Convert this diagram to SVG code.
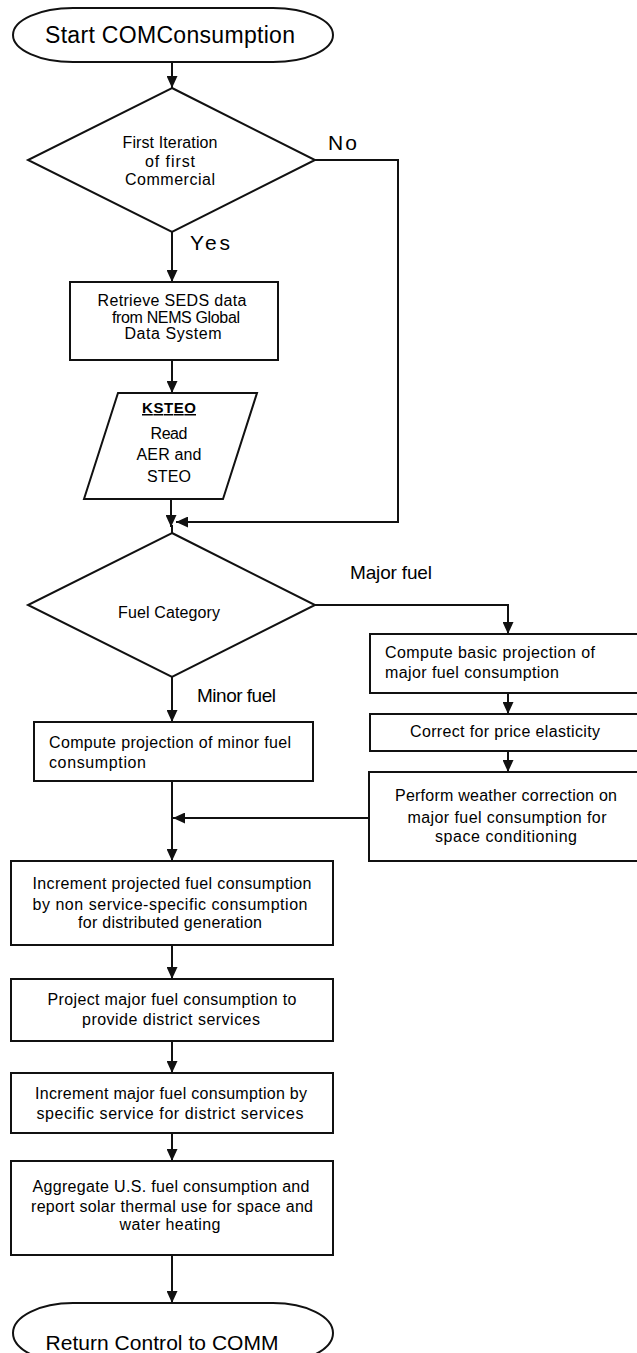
<svg xmlns="http://www.w3.org/2000/svg" width="637" height="1353" viewBox="0 0 637 1353">
<style>
.s{fill:#fff;stroke:#111;stroke-width:2}
.c{fill:none;stroke:#111;stroke-width:2}
text{font-family:"Liberation Sans",Arial,sans-serif;fill:#000}
.t{font-size:16px}
.m{text-anchor:middle}
.big{font-size:21px}
.lbl{font-size:19px}
</style>
<defs>
<marker id="ah" viewBox="0 0 12 11" refX="12" refY="5.5" markerWidth="12" markerHeight="11" markerUnits="userSpaceOnUse" orient="auto">
<path d="M0,0 L12,5.5 L0,11 z" fill="#111"/>
</marker>
</defs>
<rect width="637" height="1353" fill="#fff"/>

<g id="connectors">
<path class="c" d="M172,62 V88" marker-end="url(#ah)"/>
<path class="c" d="M172,232 V282" marker-end="url(#ah)"/>
<path class="c" d="M172,360 V393" marker-end="url(#ah)"/>
<path class="c" d="M171,499 V527" marker-end="url(#ah)"/>
<path class="c" d="M172,525 V533"/>
<path class="c" d="M315,160 H398 V522 H176" marker-end="url(#ah)"/>
<path class="c" d="M315,605 H508 V634" marker-end="url(#ah)"/>
<path class="c" d="M172,677 V722" marker-end="url(#ah)"/>
<path class="c" d="M508,693 V714" marker-end="url(#ah)"/>
<path class="c" d="M508,751 V772" marker-end="url(#ah)"/>
<path class="c" d="M369,818 H173" marker-end="url(#ah)"/>
<path class="c" d="M172,781 V861" marker-end="url(#ah)"/>
<path class="c" d="M172,945 V979" marker-end="url(#ah)"/>
<path class="c" d="M172,1041 V1073" marker-end="url(#ah)"/>
<path class="c" d="M172,1133 V1161" marker-end="url(#ah)"/>
<path class="c" d="M172,1255 V1303" marker-end="url(#ah)"/>
</g>

<g id="labels">
<text font-size="21" x="328" y="150" textLength="29">No</text>
<text font-size="21" x="190" y="250" textLength="40">Yes</text>
<text class="lbl" x="350" y="579" textLength="82">Major fuel</text>
<text class="lbl" x="197" y="702" textLength="79">Minor fuel</text>
</g>

<g id="start">
<rect class="s" x="13" y="8" width="320" height="54" rx="60" ry="27"/>
<text class="m" font-size="23" x="170" y="43" textLength="250">Start COMConsumption</text>
</g>

<g id="decision1">
<polygon class="s" points="172,88 315,160 172,232 28,160"/>
<text class="t m" x="170" y="148" textLength="95">First Iteration</text>
<text class="t m" x="170" y="167" textLength="50">of first</text>
<text class="t m" x="170" y="185" textLength="90">Commercial</text>
</g>

<g id="retrieve">
<rect class="s" x="70" y="282" width="208" height="78"/>
<text class="t m" x="172" y="306" textLength="149">Retrieve SEDS data</text>
<text class="t m" x="176" y="323" textLength="128">from NEMS Global</text>
<text class="t m" x="173" y="339" textLength="97">Data System</text>
</g>

<g id="ksteo">
<polygon class="s" points="118,393 257,393 223,499 84,499"/>
<text class="m" font-size="15" x="169" y="413" font-weight="bold" text-decoration="underline" textLength="54">KSTEO</text>
<text class="t m" x="169" y="439" textLength="37">Read</text>
<text class="t m" x="169" y="460" textLength="65">AER and</text>
<text class="t m" x="169" y="482" textLength="44">STEO</text>
</g>

<g id="decision2">
<polygon class="s" points="172,533 315,605 172,677 28,605"/>
<text class="m" font-size="16" x="169" y="618" textLength="102">Fuel Category</text>
</g>

<g id="minor">
<rect class="s" x="34" y="722" width="279" height="59"/>
<text class="t" x="49" y="748" textLength="242">Compute projection of minor fuel</text>
<text class="t" x="49" y="768" textLength="97">consumption</text>
</g>

<g id="basic">
<rect class="s" x="370" y="634" width="280" height="59"/>
<text class="t" x="385" y="658" textLength="210">Compute basic projection of</text>
<text class="t" x="385" y="678" textLength="174">major fuel consumption</text>
</g>

<g id="elasticity">
<rect class="s" x="370" y="714" width="280" height="37"/>
<text class="t m" x="505" y="737" textLength="190">Correct for price elasticity</text>
</g>

<g id="weather">
<rect class="s" x="369" y="772" width="281" height="89"/>
<text class="t m" x="506" y="801" textLength="222">Perform weather correction on</text>
<text class="t m" x="507" y="823" textLength="199">major fuel consumption for</text>
<text class="t m" x="506" y="842" textLength="142">space conditioning</text>
</g>

<g id="increment">
<rect class="s" x="11" y="861" width="322" height="84"/>
<text class="t m" x="172" y="889" textLength="279">Increment projected fuel consumption</text>
<text class="t m" x="170" y="910" textLength="275">by non service-specific consumption</text>
<text class="t m" x="170" y="928" textLength="184">for distributed generation</text>
</g>

<g id="district">
<rect class="s" x="11" y="979" width="322" height="62"/>
<text class="t m" x="172" y="1005" textLength="249">Project major fuel consumption to</text>
<text class="t m" x="171" y="1025" textLength="178">provide district services</text>
</g>

<g id="specific">
<rect class="s" x="11" y="1073" width="322" height="60"/>
<text class="t m" x="171" y="1099" textLength="272">Increment major fuel consumption by</text>
<text class="t m" x="170" y="1119" textLength="267">specific service for district services</text>
</g>

<g id="aggregate">
<rect class="s" x="11" y="1161" width="322" height="94"/>
<text class="t m" x="171" y="1192" textLength="277">Aggregate U.S. fuel consumption and</text>
<text class="t m" x="172" y="1212" textLength="282">report solar thermal use for space and</text>
<text class="t m" x="170" y="1230" textLength="101">water heating</text>
</g>

<g id="end">
<rect class="s" x="13" y="1303" width="320" height="60" rx="60" ry="30"/>
<text class="big m" x="162" y="1350" textLength="233">Return Control to COMM</text>
</g>
</svg>
